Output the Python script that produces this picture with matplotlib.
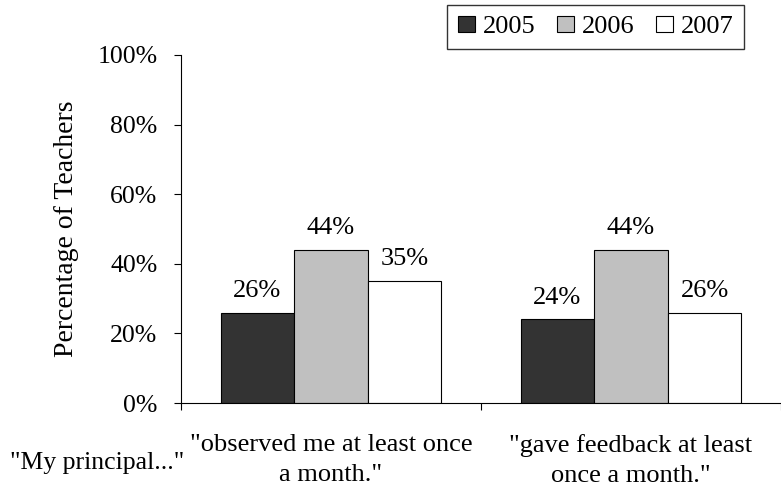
import matplotlib
matplotlib.use("Agg")
import matplotlib.pyplot as plt
import numpy as np

plt.rcParams['font.family'] = ['Liberation Serif', 'DejaVu Serif']

categories = ['"observed me at least once\na month."', '"gave feedback at least\nonce a month."']
years = ['2005', '2006', '2007']
values = {
    '2005': [26, 24],
    '2006': [44, 44],
    '2007': [35, 26],
}
colors = ['#333333', '#c0c0c0', '#ffffff']

fig = plt.figure(figsize=(7.81, 4.93), dpi=100)
ax = fig.add_axes([181 / 781, 90 / 493, 600 / 781, 348 / 493])

x = np.arange(len(categories))
w = 0.245
for i, yr in enumerate(years):
    pos = x + (i - 1) * w
    bars = ax.bar(pos, np.array(values[yr]) / 100, w, color=colors[i],
                  edgecolor='black', linewidth=0.8, label=yr)
    for b, v in zip(bars, values[yr]):
        ax.annotate(f'{v}%', (b.get_x() + b.get_width() / 2, b.get_height()),
                    xytext=(0, 11.5), textcoords='offset points',
                    ha='center', va='baseline', fontsize=19)

ax.set_ylim(0, 1)
ax.set_xlim(-0.5, -0.5 + 600 / 306)
ticks = np.arange(0, 1.01, 0.2)
ax.set_yticks(ticks)
ax.set_yticklabels([f'{int(round(t * 100))}%' for t in ticks], fontsize=18.5)
ax.tick_params(axis='y', direction='out', length=5, width=0.8, pad=12)

ax.set_xticks(x)
ax.set_xticklabels(categories, fontsize=19, linespacing=1.5)
ax.tick_params(axis='x', which='major', length=0, pad=22)
ax.set_xticks([-0.5, 0.5, 1.5], minor=True)
ax.tick_params(axis='x', which='minor', direction='out', length=5, width=0.8)

for s in ['top', 'right']:
    ax.spines[s].set_visible(False)
for s in ['left', 'bottom']:
    ax.spines[s].set_linewidth(0.8)

ax.set_ylabel('Percentage of Teachers', fontsize=20, labelpad=13)

fig.text(10 / 781, 1 - 469 / 493, '"My principal..."', fontsize=18.5, ha='left', va='baseline')

leg = ax.legend(ncol=3, loc='upper right', bbox_to_anchor=(744 / 781, 1 - 5 / 493),
                bbox_transform=fig.transFigure, fontsize=19, frameon=True, fancybox=False,
                edgecolor='black', handlelength=0.65, handleheight=0.6,
                handletextpad=0.3, columnspacing=0.8, borderpad=0.4, borderaxespad=0)
leg.get_frame().set_linewidth(1)

fig.savefig('out.png', dpi=100)
